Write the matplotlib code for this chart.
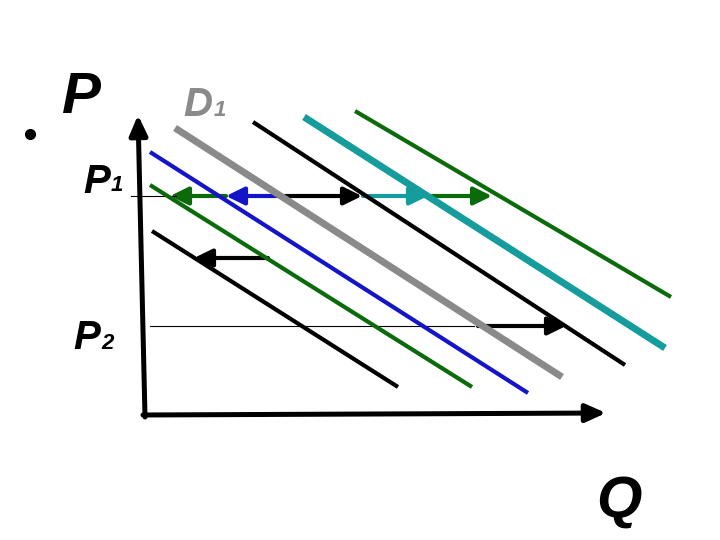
import matplotlib.pyplot as plt
from matplotlib.patches import FancyArrowPatch

# demand curves: (x0, y0, x1, y1) in picture units, colour, width
curve_names = ["D_low", "green_in", "blue", "D1", "black_up", "teal", "green_out"]
curve_x0 = [152, 150, 150, 175, 253, 304, 355]
curve_y0 = [231, 185, 152, 128, 122, 117, 111]
curve_x1 = [398, 472, 528, 562, 625, 665, 671]
curve_y1 = [387, 387, 393, 377, 365, 348, 297]
curve_colors = ["black", "#0b6b0b", "#1414c8", "#8a8a8a", "black", "#159c9c", "#0b6b0b"]
curve_widths = [3, 3, 3, 5, 3, 5, 3]

# price levels
p1_level = 196
p2_level = 326

# shift arrows: start x, end x, y, colour
arrow_x0 = [226, 282, 285, 363, 432, 268, 478]
arrow_x1 = [170, 226, 362, 428, 492, 194, 566]
arrow_y = [p1_level, p1_level, p1_level, p1_level, p1_level, 258, p2_level]
arrow_colors = ["#0b6b0b", "#1414c8", "black", "#159c9c", "#0b6b0b", "black", "black"]

fig = plt.figure(figsize=(7.2, 5.4), dpi=100)
ax = fig.add_axes([0, 0, 1, 1])
ax.set_xlim(0, 720)
ax.set_ylim(540, 0)
ax.axis("off")

# guide lines for P1 and P2
ax.plot([131, 176], [p1_level, p1_level], color="black", lw=0.8)
ax.plot([150, 474], [p2_level, p2_level], color="black", lw=0.8)

for i in range(len(curve_names)):
    ax.plot([curve_x0[i], curve_x1[i]], [curve_y0[i], curve_y1[i]],
            color=curve_colors[i], lw=curve_widths[i], solid_capstyle="butt")

for i in range(len(arrow_x0)):
    arr = FancyArrowPatch((arrow_x0[i], arrow_y[i]), (arrow_x1[i], arrow_y[i]),
                          arrowstyle="-|>,head_length=0.55,head_width=0.27",
                          mutation_scale=20, lw=3, color=arrow_colors[i],
                          shrinkA=0, shrinkB=0)
    ax.add_patch(arr)

# axes of the diagram
ax.add_patch(FancyArrowPatch((145, 417), (138, 115),
                             arrowstyle="-|>,head_length=0.6,head_width=0.27",
                             mutation_scale=20, lw=3.6, color="black",
                             shrinkA=0, shrinkB=0))
ax.add_patch(FancyArrowPatch((143, 415), (606, 413),
                             arrowstyle="-|>,head_length=0.6,head_width=0.27",
                             mutation_scale=20, lw=3.6, color="black",
                             shrinkA=0, shrinkB=0))

font = dict(family="Liberation Sans", weight="bold", style="italic", va="baseline", ha="center")
ax.text(81, 113, "P", fontsize=42, **font)
ax.text(198, 116, "D", fontsize=29, color="#8a8a8a", **font)
ax.text(220, 116, "1", fontsize=16, color="#8a8a8a", **font)
ax.text(97, 193, "P", fontsize=29, **font)
ax.text(117, 191, "1", fontsize=16, **font)
ax.text(87, 349, "P", fontsize=29, **font)
ax.text(108, 349, "2", fontsize=16, **font)
ax.text(619, 517, "Q", fontsize=42, **font)
ax.plot([30], [134], "o", color="black", ms=7)

plt.savefig("out.png", dpi=100)
